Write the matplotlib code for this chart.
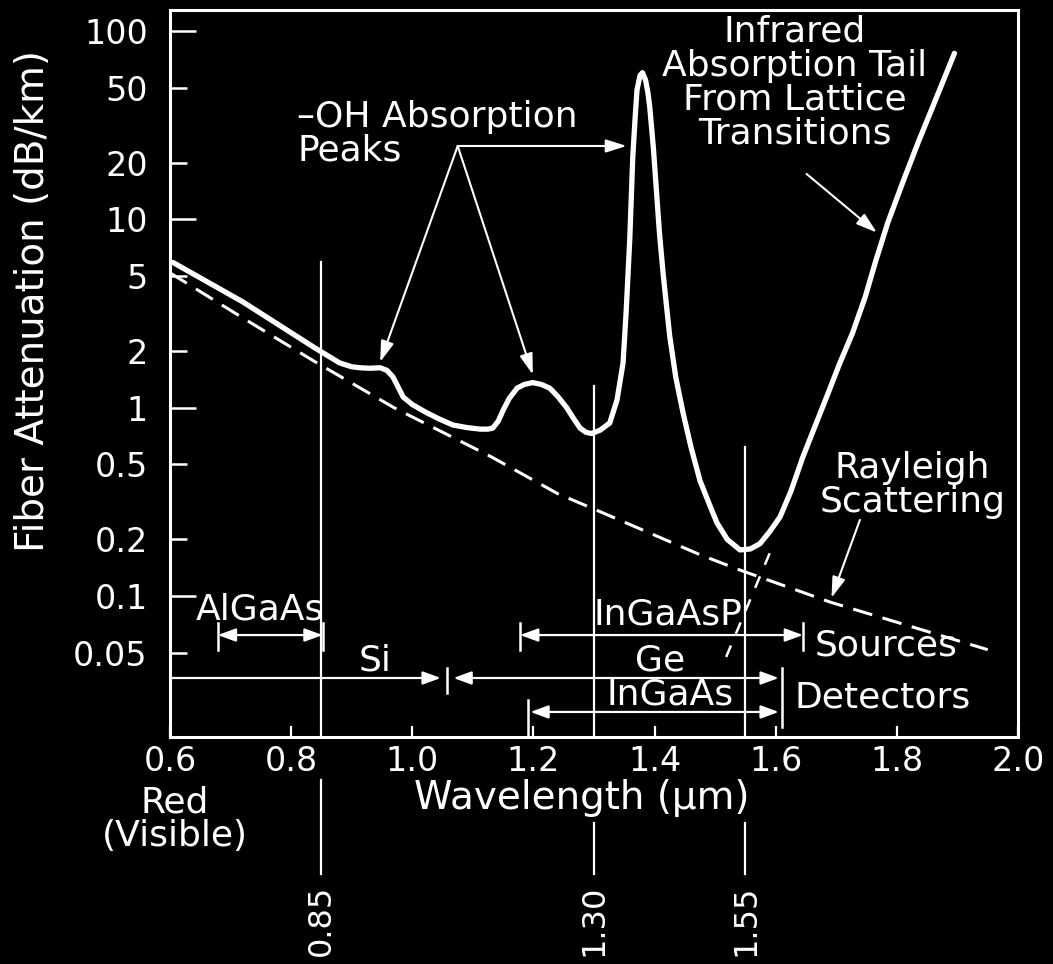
import matplotlib
matplotlib.use("Agg")
import matplotlib.pyplot as plt

# total fiber attenuation
wl_total = [0.605, 0.72, 0.84, 0.88, 0.90, 0.914, 0.93, 0.947, 0.958, 0.968,
            0.976, 0.985, 1.0, 1.024, 1.045, 1.067, 1.09, 1.112, 1.125, 1.133,
            1.142, 1.15, 1.16, 1.173, 1.185, 1.199, 1.213, 1.227, 1.24, 1.255,
            1.266, 1.277, 1.287, 1.296, 1.31, 1.326, 1.338, 1.348, 1.353, 1.359,
            1.364, 1.368, 1.371, 1.376, 1.38, 1.385, 1.389, 1.392, 1.398, 1.403,
            1.408, 1.414, 1.42, 1.425, 1.435, 1.447, 1.46, 1.475, 1.49, 1.503,
            1.52, 1.541, 1.558, 1.574, 1.59, 1.607, 1.625, 1.645, 1.665, 1.684,
            1.705, 1.727, 1.748, 1.765, 1.785, 1.81, 1.836, 1.865, 1.895]
att_total = [5.9, 3.65, 2.07, 1.73, 1.65, 1.63, 1.62, 1.63, 1.58, 1.46,
             1.3, 1.14, 1.04, 0.94, 0.87, 0.81, 0.785, 0.77, 0.77, 0.78,
             0.85, 0.97, 1.12, 1.27, 1.33, 1.36, 1.33, 1.27, 1.15, 1.0,
             0.88, 0.78, 0.74, 0.73, 0.76, 0.83, 1.1, 1.73, 3.2, 7.8,
             21.4, 35, 48.6, 58, 60, 55, 47, 39.5, 24, 14.3,
             8.5, 5.2, 3.4, 2.4, 1.45, 0.94, 0.62, 0.41, 0.31, 0.245,
             0.2, 0.176, 0.178, 0.19, 0.22, 0.263, 0.36, 0.55, 0.8, 1.14,
             1.7, 2.5, 3.9, 6.0, 9.6, 15.8, 26.0, 44, 76]

# rayleigh scattering (dashed)
wl_ray = [0.6, 0.72, 0.84, 0.97, 1.13, 1.24, 1.30, 1.475, 1.54, 1.69, 1.95]
att_ray = [5.2, 3.0, 1.75, 1.0, 0.55, 0.35, 0.29, 0.166, 0.138, 0.093, 0.052]

# operating windows: wavelength, top of marker line
windows = [0.85, 1.30, 1.55]
window_tops = [5.9, 1.31, 0.62]
window_labels = ["0.85", "1.30", "1.55"]

# source / detector ranges (start, end)
sources = {"AlGaAs": (0.679, 0.852), "InGaAsP": (1.178, 1.645)}
si_range = (0.6, 1.047)
ge_range = (1.068, 1.605)
ingaas_range = (1.195, 1.605)

yticks_major = [0.1, 1, 10, 100]
yticks_minor = [0.05, 0.2, 0.5, 2, 5, 20, 50]
xticks = [0.6, 0.8, 1.0, 1.2, 1.4, 1.6, 1.8, 2.0]

W = "white"
FS = 24

fig = plt.figure(figsize=(10.53, 9.64), dpi=100)
fig.patch.set_facecolor("black")
ax = fig.add_axes([0.1614, 0.2355, 0.8054, 0.7541])
ax.set_facecolor("black")
ax.set_yscale("log")
ax.set_xlim(0.6, 2.0)
ax.set_ylim(0.0179, 129)

for s in ax.spines.values():
    s.set_color(W)
    s.set_linewidth(2.2)

ax.plot(wl_total, att_total, color=W, lw=3.8, solid_joinstyle="round",
        solid_capstyle="round")
ax.plot(wl_ray, att_ray, color=W, lw=2.2, dashes=(6.5, 3.5))
ax.plot([1.59, 1.516], [0.169, 0.0458], color=W, lw=1.8, dashes=(5, 5))

# window lines inside and below the axes
xt = ax.get_xaxis_transform()
for w, top in zip(windows, window_tops):
    ax.plot([w, w], [0.0179, top], color=W, lw=1.6)
y0 = [-0.059, -0.118, -0.118]
for w, a, lab in zip(windows, y0, window_labels):
    ax.plot([w, w], [a, -0.188], color=W, lw=1.6, transform=xt, clip_on=False)
    ax.text(w, -0.252, lab, color=W, fontsize=23, rotation=90, ha="center",
            va="center", transform=xt)

# ticks
ax.set_xticks(xticks)
ax.set_xticklabels([f"{x:.1f}" for x in xticks])
ax.tick_params(axis="x", direction="in", length=8, width=1.6, colors=W,
               labelsize=FS, pad=6)
ax.set_yticks(yticks_major)
ax.set_yticklabels(["0.1", "1", "10", "100"])
ax.set_yticks(yticks_minor, minor=True)
ax.set_yticklabels(["0.05", "0.2", "0.5", "2", "5", "20", "50"], minor=True)
ax.tick_params(axis="y", which="major", direction="in", length=19, width=1.8,
               colors=W, labelsize=FS, pad=16)
ax.tick_params(axis="y", which="minor", direction="in", length=12, width=1.8,
               colors=W, labelsize=FS, pad=16)

ax.text(-0.162, 0.6, "Fiber Attenuation (dB/km)", transform=ax.transAxes,
        rotation=90, ha="center", va="center", color=W, fontsize=28)
ax.text(1.28, -0.084, "Wavelength (\u03bcm)", transform=xt, ha="center",
        va="center", color=W, fontsize=28)
ax.text(0.608, -0.113, "Red\n(Visible)", transform=xt, ha="center",
        va="center", color=W, fontsize=26, linespacing=1.0)

# range arrows
def span(x0, x1, y, style="<|-|>"):
    ax.annotate("", xy=(x1, y), xytext=(x0, y),
                arrowprops=dict(arrowstyle=style + ",head_length=0.6,head_width=0.22",
                                color=W, lw=1.6, shrinkA=0, shrinkB=0,
                                mutation_scale=18))

def bar(x, ylo, yhi):
    ax.plot([x, x], [ylo, yhi], color=W, lw=1.8)

for name, (a, b) in sources.items():
    span(a, b, 0.0622)
    bar(a, 0.052, 0.072)
    bar(b, 0.052, 0.072)
span(si_range[0], si_range[1], 0.0368, "-|>")
span(ge_range[0], ge_range[1], 0.0368)
bar(1.057, 0.0306, 0.0416)
span(ingaas_range[0], ingaas_range[1], 0.0243)
bar(1.191, 0.0179, 0.0281)
bar(1.61, 0.0202, 0.0416)

tk = dict(color=W, fontsize=26)
ax.text(0.749, 0.0845, "AlGaAs", ha="center", va="center", **tk)
ax.text(0.938, 0.0458, "Si", ha="center", va="center", **tk)
ax.text(1.422, 0.080, "InGaAsP", ha="center", va="center", **tk)
ax.text(1.409, 0.0458, "Ge", ha="center", va="center", **tk)
ax.text(1.425, 0.030, "InGaAs", ha="center", va="center", **tk)
ax.text(1.664, 0.055, "Sources", ha="left", va="center", **tk)
ax.text(1.631, 0.029, "Detectors", ha="left", va="center", **tk)

# annotations
ax.text(0.81, 28.4, "\u2013OH Absorption\nPeaks", ha="left", va="center",
        linespacing=1.0, **tk)
ax.text(1.631, 53, "Infrared\nAbsorption Tail\nFrom Lattice\nTransitions",
        ha="center", va="center", linespacing=1.0, **tk)
ax.text(1.826, 0.39, "Rayleigh\nScattering", ha="center", va="center",
        linespacing=1.0, **tk)

ap = dict(arrowstyle="-|>,head_length=0.7,head_width=0.22", color=W, lw=1.5,
          shrinkA=0, shrinkB=0, mutation_scale=18)
for tgt in [(0.947, 1.75), (1.199, 1.5), (1.354, 24.5)]:
    ax.annotate("", xy=tgt, xytext=(1.075, 24.5), arrowprops=ap)
ax.annotate("", xy=(1.767, 8.5), xytext=(1.651, 17.4), arrowprops=ap)
ax.annotate("", xy=(1.692, 0.098), xytext=(1.739, 0.254), arrowprops=ap)

fig.savefig("out.png", dpi=100, facecolor="black")
